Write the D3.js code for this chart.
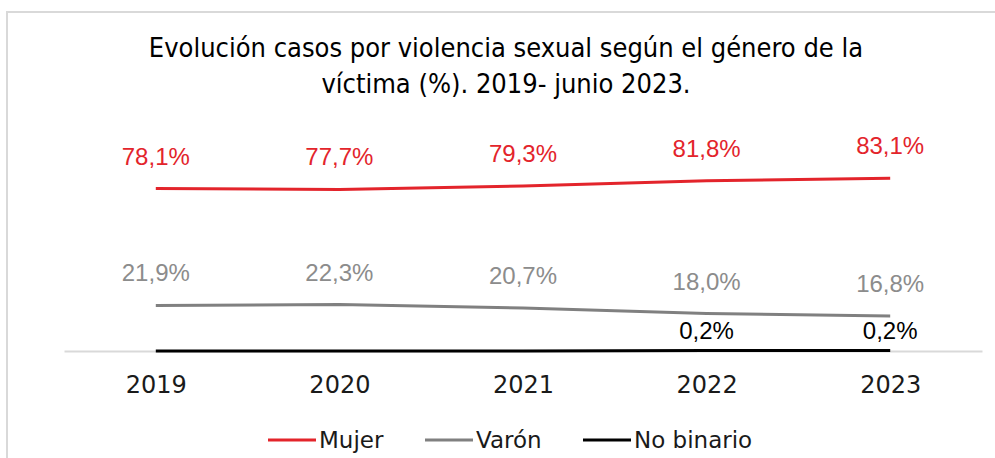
<!DOCTYPE html>
<meta charset="utf-8">
<style>
  body { margin: 0; background: #fff; }
</style>
<div id="chart"></div>
<script src="https://d3js.org/d3.v7.min.js"></script>
<script>

var years = ["2019", "2020", "2021", "2022", "2023"];
var mujer = [78.1, 77.7, 79.3, 81.8, 83.1];
var varon = [21.9, 22.3, 20.7, 18.0, 16.8];
var noBinario = [0, 0, 0, 0.2, 0.2];
var seriesNames = ["Mujer", "Varón", "No binario"];
var titleLines = ["Evolución casos por violencia sexual según el género de la",
                  "víctima (%). 2019- junio 2023."];

var width = 995, height = 458;

var svg = d3.select("#chart")
  .append("svg")
    .attr("width", width)
    .attr("height", height);

// frame
svg.append("rect")
  .attr("x", 7).attr("y", 12)
  .attr("width", 1010).attr("height", 470)
  .attr("fill", "none")
  .attr("stroke", "#d9d9d9")
  .attr("stroke-width", 2);

// title
svg.append("g").selectAll("text")
  .data(titleLines)
  .enter().append("text")
    .attr("x", 506)
    .attr("y", function(d, i) { return 57 + i * 36; })
    .attr("text-anchor", "middle")
    .style("font-family", "'Liberation Sans Narrow', 'DejaVu Sans Condensed', sans-serif")
    .style("font-size", "27px")
    .attr("fill", "#000")
    .text(function(d) { return d; });

var x = d3.scalePoint()
  .domain(years)
  .range([64, 982])
  .padding(0.5);

var y = d3.scaleLinear()
  .domain([0, 100])
  .range([351, 143]);

// x axis
var xAxis = svg.append("g")
  .attr("transform", "translate(0," + y(0) + ")")
  .call(d3.axisBottom(x).tickSize(0).tickPadding(25));

xAxis.select(".domain")
  .attr("stroke", "#d9d9d9")
  .attr("stroke-width", 2);

xAxis.selectAll("text")
  .style("font-family", "'DejaVu Sans', sans-serif")
  .style("font-size", "24px")
  .attr("fill", "#1a1a1a");

var series = [
  {name: seriesNames[0], values: mujer, color: "#e3242b", label: "#e3242b", off: 24},
  {name: seriesNames[1], values: varon, color: "#808080", label: "#8c8c8c", off: 24},
  {name: seriesNames[2], values: noBinario, color: "#000000", label: "#000000", off: 12}
];

var line = d3.line()
  .x(function(d, i) { return x(years[i]); })
  .y(function(d) { return y(d); });

series.forEach(function(s) {
  svg.append("path")
    .datum(s.values)
    .attr("d", line)
    .attr("fill", "none")
    .attr("stroke", s.color)
    .attr("stroke-width", 3);

  var pts = s.values.map(function(v, i) { return {year: years[i], value: v}; })
    .filter(function(p) { return p.value > 0; });

  svg.append("g").selectAll("text")
    .data(pts)
    .enter().append("text")
      .attr("x", function(d) { return x(d.year); })
      .attr("y", function(d) { return y(d.value) - s.off; })
      .attr("text-anchor", "middle")
      .style("font-family", "'Liberation Sans', Arial, sans-serif")
      .style("font-size", "24px")
      .attr("fill", s.label)
      .text(function(d) { return d.value.toFixed(1).replace(".", ",") + "%"; });
});

// legend
var legendX = [268, 425, 583];
var legend = svg.append("g").selectAll("g")
  .data(series)
  .enter().append("g")
    .attr("transform", function(d, i) { return "translate(" + legendX[i] + ",440)"; });

legend.append("line")
  .attr("x1", 0).attr("x2", 48)
  .attr("stroke", function(d) { return d.color; })
  .attr("stroke-width", 3);

legend.append("text")
  .attr("x", 51)
  .attr("y", 8)
  .style("font-family", "'DejaVu Sans', sans-serif")
  .style("font-size", "23px")
  .attr("fill", "#1a1a1a")
  .text(function(d) { return d.name; });

</script>
